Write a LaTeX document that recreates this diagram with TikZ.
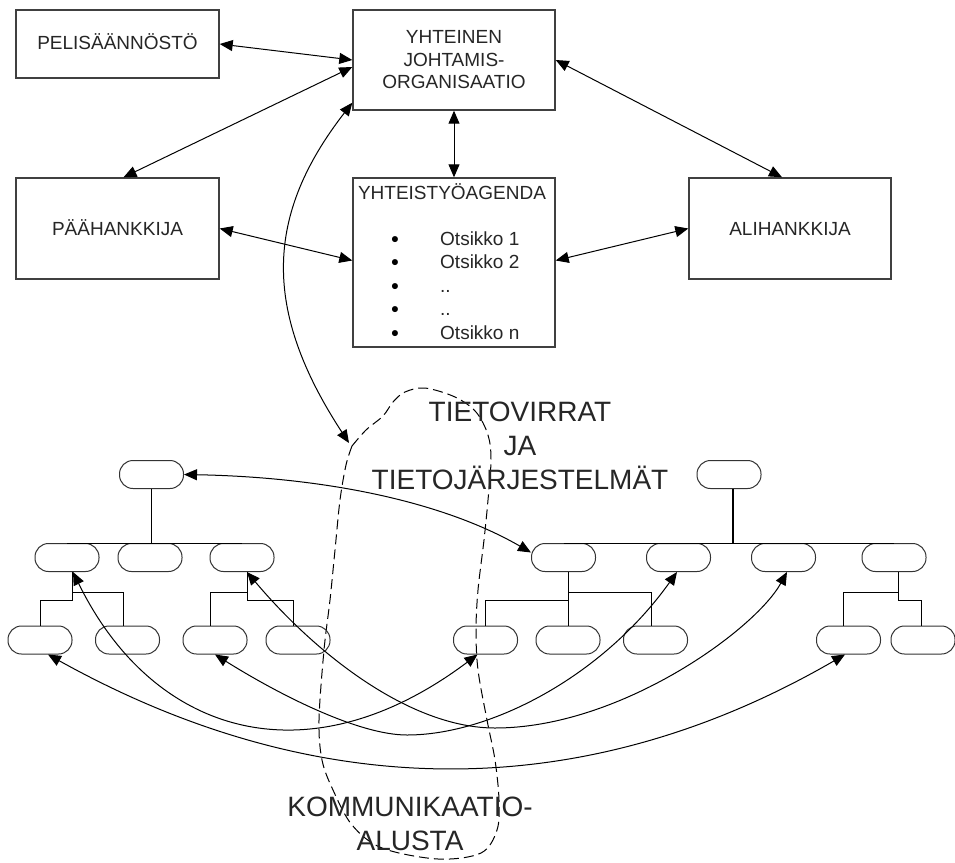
\documentclass[tikz,border=0pt]{standalone}
\usepackage{fontspec}
\setmainfont{Liberation Sans}
\usetikzlibrary{arrows.meta,calc}
\begin{document}
\begin{tikzpicture}[x=1pt,y=-1pt,
  panel/.style={draw=black!75, line width=1.4pt, fill=white, inner sep=0pt,
    font=\fontsize{19}{22.5}\selectfont, text=black!85, align=center},
  capsule/.style={draw=black!80, line width=1pt, rounded corners=13.5pt,
    minimum width=64pt, minimum height=28pt, inner sep=0pt},
  biarrow/.style={line width=1pt, >={Triangle[length=13pt,width=11pt]}, <->},
  orgline/.style={line width=1pt},
  loopline/.style={line width=1pt, dash pattern=on 10pt off 5pt},
  bigtext/.style={font=\fontsize{28}{34}\selectfont, align=center, text=black!85, inner sep=0pt},
  listtext/.style={anchor=base west, font=\fontsize{19}{23}\selectfont, text=black!85, inner sep=0pt},
  bullettext/.style={anchor=base, font=\fontsize{21}{21}\selectfont\bfseries, inner sep=0pt},
]
\path[use as bounding box] (0,0) rectangle (955,862);

% ---- management level boxes ----
\node[panel, minimum width=203pt, minimum height=68pt, text height=14pt, text depth=4pt] (peli) at (117.5,44) {PELISÄÄNNÖSTÖ};
\node[panel, minimum width=202pt, minimum height=100pt] (yht) at (454,60) {YHTEINEN\\JOHTAMIS-\\ORGANISAATIO};
\node[panel, minimum width=203pt, minimum height=101pt, text height=14pt, text depth=0pt] (paa) at (117.5,228.5) {PÄÄHANKKIJA};
\node[panel, minimum width=202pt, minimum height=169pt] (agenda) at (454,262.5) {};
\node[panel, minimum width=202pt, minimum height=101pt, text height=14pt, text depth=0pt] (ali) at (790,228.5) {ALIHANKKIJA};

% agenda contents
\node[listtext, anchor=base] (agtitle) at (452,199) {YHTEISTYÖAGENDA};
\foreach \n/\yy/\t in {1/245/Otsikko 1, 2/268.5/Otsikko 2, 3/292/.., 4/315.5/.., 5/339/Otsikko n}{
  \node[bullettext] (dot\n) at (395,\yy+1) {•};
  \node[listtext] (it\n) at (440,\yy) {\t};
}

% ---- links between the boxes ----
\draw[biarrow] (peli.east) -- (yht.west);
\draw[biarrow] ([yshift=-7pt]yht.west) -- ([xshift=6pt]paa.north);
\draw[biarrow] (yht.east) -- ([xshift=-8pt]ali.north);
\draw[biarrow] (yht.south) -- (agenda.north);
\draw[biarrow] (paa.east) -- ([yshift=2pt]agenda.west);
\draw[biarrow] ([yshift=2pt]agenda.east) -- (ali.west);

% ---- communication platform ----
\coordinate (loopTip) at (349,443);
\draw[loopline] plot[smooth, tension=0.55] coordinates {
  (352,446) (346,465) (340,500) (335,550) (330,600) (324,650) (319,720)
  (322,760) (333,790) (352,825) (382,848) (438,859) (481,853) (497,830)
  (499,800) (495,760) (487,720) (478,670) (476,630) (478,590) (484,540)
  (488,500) (491,460) (488,435) (476,412) (455,397) (425,388) (405,392)
  (393,402) (383,416) (366,430) (352,446)};
\draw[biarrow] ([yshift=8pt]yht.south west) .. controls (265,215) and (262,310) .. (loopTip);

\node[bigtext] (flows) at (520,446) {TIETOVIRRAT\\JA\\TIETOJÄRJESTELMÄT};
\node[bigtext] (platform) at (410,823.5) {KOMMUNIKAATIO-\\ALUSTA};

% ---- left organisation ----
\node[capsule] (lt) at (151.5,474.5) {};
\node[capsule] (l1) at (67,557.5) {};
\node[capsule] (l2) at (150,557.5) {};
\node[capsule] (l3) at (242,557.5) {};
\node[capsule] (la) at (40,640) {};
\node[capsule] (lb) at (127.5,640) {};
\node[capsule] (lc) at (215,640) {};
\node[capsule] (ld) at (298,640) {};

\draw[orgline, line width=1.3pt] (lt.south) -- ++(0,55);
\draw[orgline] (l1.north) -- (l3.north);
\draw[orgline] ([xshift=5pt]l1.south) -- ++(0,28) -| (la.north);
\draw[orgline] ([xshift=5pt]l1.south) ++(0,20) -| ([xshift=-4.5pt]lb.north);
\draw[orgline] ([xshift=5pt]l3.south) -- ++(0,28) -| ([xshift=-5pt]ld.north);
\draw[orgline] ([xshift=5pt]l3.south) ++(0,20) -| ([xshift=-5pt]lc.north);

% ---- right organisation ----
\node[capsule] (rt) at (729,474.5) {};
\node[capsule] (r1) at (563.5,557.5) {};
\node[capsule] (r2) at (678.5,557.5) {};
\node[capsule] (r3) at (783.5,557.5) {};
\node[capsule] (r4) at (894,557.5) {};
\node[capsule] (ra) at (485.5,640) {};
\node[capsule] (rb) at (568,640) {};
\node[capsule] (rc) at (655.5,640) {};
\node[capsule] (rd) at (848.5,640) {};
\node[capsule] (re) at (923,640) {};

\draw[orgline, line width=1.3pt] ([xshift=4pt]rt.south) -- ++(0,55);
\draw[orgline] (r1.north) -- (r4.north);
\draw[orgline] ([xshift=4.5pt]r1.south) -- (rb.north);
\draw[orgline] ([xshift=4.5pt]r1.south) ++(0,28) -| (ra.north);
\draw[orgline] ([xshift=4.5pt]r1.south) ++(0,20) -| ([xshift=-4.5pt]rc.north);
\draw[orgline] ([xshift=4pt]r4.south) -- ++(0,28) -| ([xshift=-2pt]re.north);
\draw[orgline] ([xshift=4pt]r4.south) ++(0,20) -| ([xshift=-5.5pt]rd.north);

% ---- information flows between the organisations ----
\draw[biarrow] (lt.east) .. controls (320,477) and (440,500) .. ([yshift=5pt]r1.west);
\draw[biarrow] ([xshift=6pt]l1.south) .. controls (154,737) and (309,781) .. ([xshift=-8pt]ra.south);
\draw[biarrow] ([xshift=5pt]l3.south) .. controls (316,654) and (410,728) .. (495,728)
  .. controls (620,728) and (755,630) .. ([xshift=3.5pt]r3.south);
\draw[biarrow] (lc.south) .. controls (283,697) and (360,735) .. (407,735)
  .. controls (490,735) and (602,677) .. ([xshift=-1.5pt]r2.south);
\draw[biarrow] ([xshift=8pt]la.south) .. controls (313,802) and (580,808) .. ([xshift=-3.5pt]rd.south);
\end{tikzpicture}
\end{document}
